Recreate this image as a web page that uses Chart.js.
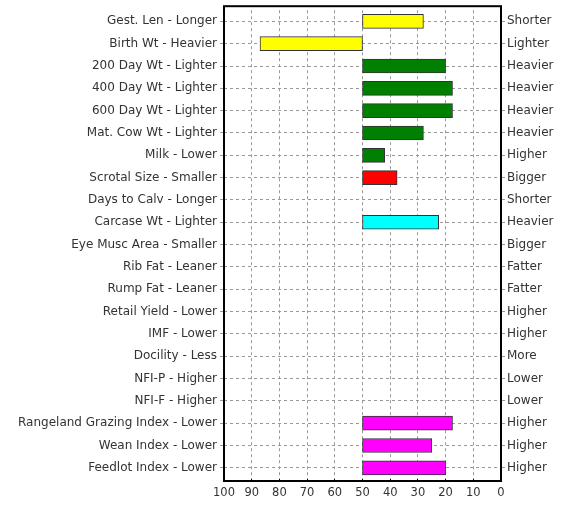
<!DOCTYPE html>
<html>
<head>
<meta charset="utf-8">
<script src="https://cdn.jsdelivr.net/npm/chart.js@4"></script>
<style>
  html, body { margin: 0; padding: 0; background: #fff; }
  #wrap { width: 570px; height: 507px; }
</style>
</head>
<body>
<div id="wrap"><canvas id="traitChart"></canvas></div>
<script>
// Trait names (left) and the opposite direction (right)
const leftLabels = [
    'Gest. Len - Longer', 'Birth Wt - Heavier', '200 Day Wt - Lighter', '400 Day Wt - Lighter',
    '600 Day Wt - Lighter', 'Mat. Cow Wt - Lighter', 'Milk - Lower', 'Scrotal Size - Smaller',
    'Days to Calv - Longer', 'Carcase Wt - Lighter', 'Eye Musc Area - Smaller', 'Rib Fat - Leaner',
    'Rump Fat - Leaner', 'Retail Yield - Lower', 'IMF - Lower', 'Docility - Less',
    'NFI-P - Higher', 'NFI-F - Higher', 'Rangeland Grazing Index - Lower', 'Wean Index - Lower',
    'Feedlot Index - Lower'
];
const rightLabels = [
    'Shorter', 'Lighter', 'Heavier', 'Heavier', 'Heavier', 'Heavier', 'Higher', 'Bigger',
    'Shorter', 'Heavier', 'Bigger', 'Fatter', 'Fatter', 'Higher', 'Higher', 'More',
    'Lower', 'Lower', 'Higher', 'Higher', 'Higher'
];
// percentile where each bar ends (bars start at 50), null = no bar
const barEnds = [28, 87, 20, 17.5, 17.5, 28, 42, 37.5, null, 22.5, null, null,
                 null, null, null, null, null, null, 17.5, 25, 20];
const barColors = ['#ffff00', '#ffff00', '#008000', '#008000', '#008000', '#008000', '#008000', '#ff0000',
                   null, '#00ffff', null, null, null, null, null, null, null, null,
                   '#ff00ff', '#ff00ff', '#ff00ff'];
const xTicks = [100, 90, 80, 70, 60, 50, 40, 30, 20, 10, 0];

const floating = barEnds.map(v => v === null ? null : [50, v]);

const framePlugin = {
    id: 'frame',
    afterDraw(chart) {
        const a = chart.chartArea;
        const c = chart.ctx;
        c.save();
        c.strokeStyle = '#000';
        c.lineWidth = 2;
        c.strokeRect(a.left, a.top - 4, a.right - a.left, a.bottom - a.top + 6);
        c.restore();
    }
};

const font = { family: 'DejaVu Sans, Verdana, sans-serif', size: 12 };

new Chart(document.getElementById('traitChart'), {
    type: 'bar',
    data: {
        labels: leftLabels,
        datasets: [{
            data: floating,
            backgroundColor: barColors,
            borderColor: '#333',
            borderWidth: 1,
            borderSkipped: false,
            barThickness: 14
        }]
    },
    options: {
        indexAxis: 'y',
        responsive: true,
        maintainAspectRatio: false,
        animation: false,
        layout: { padding: { top: 10, bottom: 0, left: 0, right: 0 } },
        plugins: { legend: { display: false }, tooltip: { enabled: false } },
        scales: {
            x: {
                type: 'linear',
                reverse: true,
                min: 0,
                max: 100,
                afterBuildTicks: axis => { axis.ticks = xTicks.map(v => ({ value: v })); },
                ticks: { color: '#333', font: { family: font.family, size: 11.5 }, padding: 4, maxRotation: 0, minRotation: 0, autoSkip: false },
                grid: {
                    color: '#999',
                    tickColor: '#000',
                    tickLength: 3,
                    drawTicks: true
                },
                border: { display: false, dash: [3, 3] },
                afterFit: axis => { axis.height = 28; }
            },
            y: {
                type: 'category',
                position: 'left',
                ticks: { color: '#333', font: font, padding: 3, autoSkip: false },
                grid: {
                    offset: false,
                    color: '#999',
                    tickColor: '#999',
                    tickLength: 4
                },
                border: { display: false, dash: [3, 3] },
                afterFit: axis => { axis.width = 224; }
            },
            y2: {
                type: 'category',
                position: 'right',
                labels: rightLabels,
                ticks: { color: '#333', font: font, padding: 2, autoSkip: false },
                grid: {
                    offset: false,
                    drawOnChartArea: false,
                    color: '#999',
                    tickLength: 4
                },
                border: { display: false },
                afterFit: axis => { axis.width = 69; }
            }
        }
    },
    plugins: [framePlugin]
});
</script>
</body>
</html>
